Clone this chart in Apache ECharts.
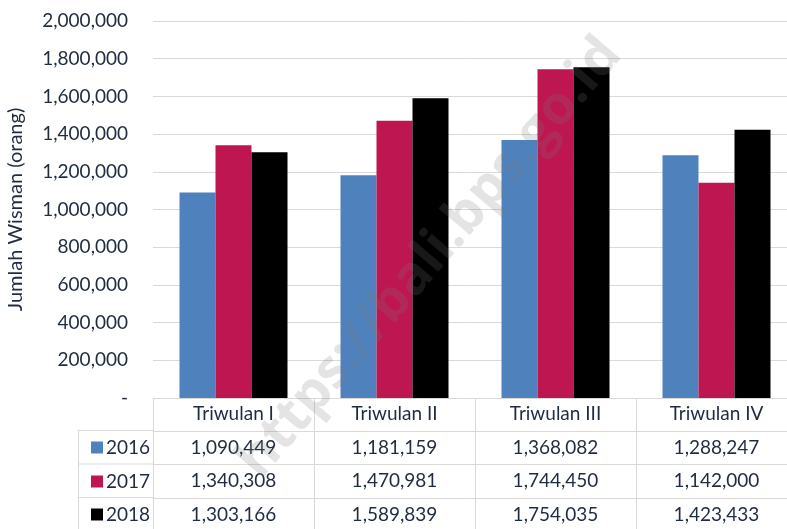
<!DOCTYPE html>
<html>
<head>
<meta charset="utf-8">
<script src="https://cdn.jsdelivr.net/npm/echarts@6/dist/echarts.min.js"></script>
<style>
  html, body { margin: 0; padding: 0; background: #fff; }
  #chart { width: 787px; height: 529px; }
</style>
</head>
<body>
<div id="chart"></div>
<script>
// data
var quarters = ['Triwulan I', 'Triwulan II', 'Triwulan III', 'Triwulan IV'];
var years = ['2016', '2017', '2018'];
var v2016 = [1090449, 1181159, 1368082, 1288247];
var v2017 = [1340308, 1470981, 1744450, 1142000];
var v2018 = [1303166, 1589839, 1754035, 1423433];
var yearColors = ['#4f81bd', '#be1650', '#000000'];

var textColor = '#1f2c3f';
var lineColor = '#d9d9d9';
var font = 'Lato';
var fs = 19;

function fmt(n) {
  return n.toLocaleString('en-US');
}

var chart = echarts.init(document.getElementById('chart'));

// table rows under the axis: one extra x axis per year
var rowValues = [v2016, v2017, v2018];
var rowOffsets = [33, 66.5, 100];

var xAxes = [{
  type: 'category',
  data: quarters,
  position: 'bottom',
  axisLine: { show: true, lineStyle: { color: lineColor, width: 1 } },
  axisTick: { show: true, length: 135, lineStyle: { color: lineColor, width: 1 } },
  axisLabel: { color: textColor, fontFamily: font, fontSize: fs, margin: 6 }
}];
rowValues.forEach(function (vals, i) {
  xAxes.push({
    type: 'category',
    data: vals.map(fmt),
    position: 'bottom',
    offset: rowOffsets[i],
    axisLine: { show: true, lineStyle: { color: lineColor, width: 1 } },
    axisTick: { show: false },
    axisLabel: { color: textColor, fontFamily: font, fontSize: fs, margin: 7 }
  });
});

// one legend per table row so each key sits in its own row
var legendTops = [433, 467, 500];
var legends = years.map(function (y, i) {
  return {
    left: 86,
    top: legendTops[i],
    icon: 'rect',
    itemWidth: 12,
    itemHeight: 12,
    itemGap: 0,
    selectedMode: false,
    textStyle: { color: textColor, fontFamily: font, fontSize: fs, padding: [0, 0, 0, -2] },
    data: [y]
  };
});

var option = {
  backgroundColor: '#fff',
  animation: false,
  color: yearColors,
  grid: { left: 153, top: 21, width: 644, bottom: 131, containLabel: false, outerBoundsMode: 'none' },
  legend: legends,
  xAxis: xAxes,
  yAxis: {
    type: 'value',
    min: 0,
    max: 2000000,
    interval: 200000,
    name: 'Jumlah Wisman (orang)',
    nameLocation: 'middle',
    nameGap: 127,
    nameTextStyle: { color: textColor, fontFamily: font, fontSize: 20 },
    axisLine: { show: false },
    axisTick: { show: false },
    splitLine: { lineStyle: { color: lineColor, width: 1 } },
    axisLabel: {
      color: textColor, fontFamily: font, fontSize: fs, margin: 25,
      formatter: function (v) { return v === 0 ? '-' : fmt(v); }
    }
  },
  series: [
    { name: years[0], type: 'bar', data: v2016, barWidth: 36, barGap: '0%' },
    { name: years[1], type: 'bar', data: v2017, barWidth: 36, barGap: '0%' },
    { name: years[2], type: 'bar', data: v2018, barWidth: 36, barGap: '0%' }
  ],
  graphic: [
    // left column of the table
    { type: 'line', shape: { x1: 78, y1: 430.5, x2: 153, y2: 430.5 }, style: { stroke: lineColor, lineWidth: 1 } },
    { type: 'line', shape: { x1: 78, y1: 464, x2: 153, y2: 464 }, style: { stroke: lineColor, lineWidth: 1 } },
    { type: 'line', shape: { x1: 78, y1: 497.5, x2: 153, y2: 497.5 }, style: { stroke: lineColor, lineWidth: 1 } },
    { type: 'line', shape: { x1: 78.5, y1: 430, x2: 78.5, y2: 529 }, style: { stroke: lineColor, lineWidth: 1 } },
    // watermark
    {
      type: 'text', x: 430, y: 258, rotation: Math.PI * 49.5 / 180, z: 100,
      style: {
        text: 'https://bali.bps.go.id', fill: 'rgba(120,120,120,0.2)',
        font: 'bold 54px "Open Sans"', align: 'center', verticalAlign: 'middle'
      }
    }
  ]
};

chart.setOption(option);
</script>
</body>
</html>
